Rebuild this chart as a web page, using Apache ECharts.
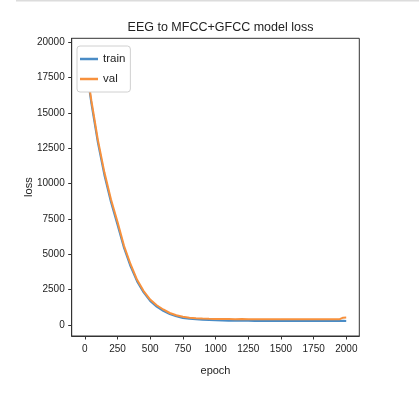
<!DOCTYPE html>
<html>
<head>
<meta charset="utf-8">
<script src="https://cdn.jsdelivr.net/npm/echarts@6/dist/echarts.min.js"></script>
<style>
  html, body { margin: 0; padding: 0; background: #fff; }
  #chart { width: 419px; height: 393px; }
</style>
</head>
<body>
<div id="chart"></div>
<script>
    // data
    var epochs = [0, 25, 50, 75, 100, 150, 200, 250, 300, 350, 400, 450, 500, 550, 600, 650, 700, 750, 800, 850,
                  900, 950, 1000, 1050, 1100, 1150, 1200, 1250, 1300, 1350, 1400, 1450, 1500, 1550, 1600, 1650,
                  1700, 1750, 1800, 1850, 1900, 1950, 1975, 1999];
    var trainLoss = [19200, 17300, 15700, 14300, 12900, 10600, 8700, 7100, 5450, 4150, 3080, 2300, 1700, 1300, 1000, 770,
                     610, 500, 440, 400, 370, 350, 330, 320, 310, 300, 300, 295, 290, 295, 290, 290, 285, 290, 285, 285,
                     280, 285, 280, 280, 280, 285, 300, 290];
    var valLoss = [19300, 17500, 15900, 14500, 13100, 10800, 8900, 7300, 5600, 4300, 3200, 2400, 1800, 1400, 1100, 850,
                   690, 580, 520, 480, 455, 440, 430, 425, 420, 415, 420, 410, 415, 410, 405, 410, 405, 400, 405, 400,
                   400, 405, 400, 400, 405, 410, 520, 530];
    var xTicks = [0, 250, 500, 750, 1000, 1250, 1500, 1750, 2000];
    var yTicks = [0, 2500, 5000, 7500, 10000, 12500, 15000, 17500, 20000];

    var font = '"Liberation Sans Narrow", "Liberation Sans", sans-serif';

    function pairs(xs, ys) {
        return xs.map(function (x, i) { return [x, ys[i]]; });
    }

    var myChart = echarts.init(document.getElementById('chart'), null, {renderer: 'canvas'});

    var option = {
        animation: false,
        backgroundColor: '#fff',
        title: {
            text: 'EEG to MFCC+GFCC model loss',
            left: 215.5,
            textAlign: 'center',
            top: 16,
            textStyle: {fontFamily: font, fontSize: 12.5, fontWeight: 'normal', color: '#222'}
        },
        graphic: [{
            type: 'line',
            shape: {x1: 16, y1: 0.5, x2: 419, y2: 0.5},
            style: {stroke: '#dcdcdc', lineWidth: 2}
        }],
        legend: {
            orient: 'vertical',
            left: 77,
            top: 46,
            padding: [7, 5, 7, 3],
            itemGap: 8,
            itemWidth: 18,
            itemHeight: 2.5,
            icon: 'rect',
            backgroundColor: '#fff',
            borderColor: '#d0d0d0',
            borderWidth: 1,
            borderRadius: 3,
            textStyle: {fontFamily: font, fontSize: 11.5, color: '#222'},
            data: ['train', 'val']
        },
        grid: {
            left: 71.7,
            right: 59.7,
            top: 38.3,
            bottom: 57,
            show: true,
            borderColor: '#333',
            borderWidth: 1
        },
        xAxis: {
            type: 'value',
            min: -100,
            max: 2099,
            name: 'epoch',
            nameLocation: 'middle',
            nameGap: 29,
            nameMoveOverlap: false,
            nameTextStyle: {fontFamily: font, fontSize: 11, color: '#222'},
            axisLine: {show: true, onZero: false, lineStyle: {color: '#333'}},
            axisTick: {show: true, length: 3.5, customValues: xTicks, lineStyle: {color: '#333'}},
            axisLabel: {
                customValues: xTicks, margin: 8, fontFamily: font, fontSize: 10, color: '#222',
                formatter: function (v) { return String(v); }
            },
            splitLine: {show: false}
        },
        yAxis: {
            type: 'value',
            min: -777,
            max: 20282,
            name: 'loss',
            nameLocation: 'middle',
            nameGap: 37,
            nameMoveOverlap: false,
            nameTextStyle: {fontFamily: font, fontSize: 11, color: '#222'},
            axisLine: {show: true, onZero: false, lineStyle: {color: '#333'}},
            axisTick: {show: true, length: 3.5, customValues: yTicks, lineStyle: {color: '#333'}},
            axisLabel: {
                customValues: yTicks, margin: 7, fontFamily: font, fontSize: 10, color: '#222',
                formatter: function (v) { return String(v); }
            },
            splitLine: {show: false}
        },
        series: [
            {
                name: 'train',
                type: 'line',
                showSymbol: false,
                data: pairs(epochs, trainLoss),
                itemStyle: {color: '#4a8cc6'},
                lineStyle: {color: '#4a8cc6', width: 2}
            },
            {
                name: 'val',
                type: 'line',
                showSymbol: false,
                data: pairs(epochs, valLoss),
                itemStyle: {color: '#f7913d'},
                lineStyle: {color: '#f7913d', width: 2}
            }
        ]
    };

    myChart.setOption(option);
</script>
</body>
</html>
